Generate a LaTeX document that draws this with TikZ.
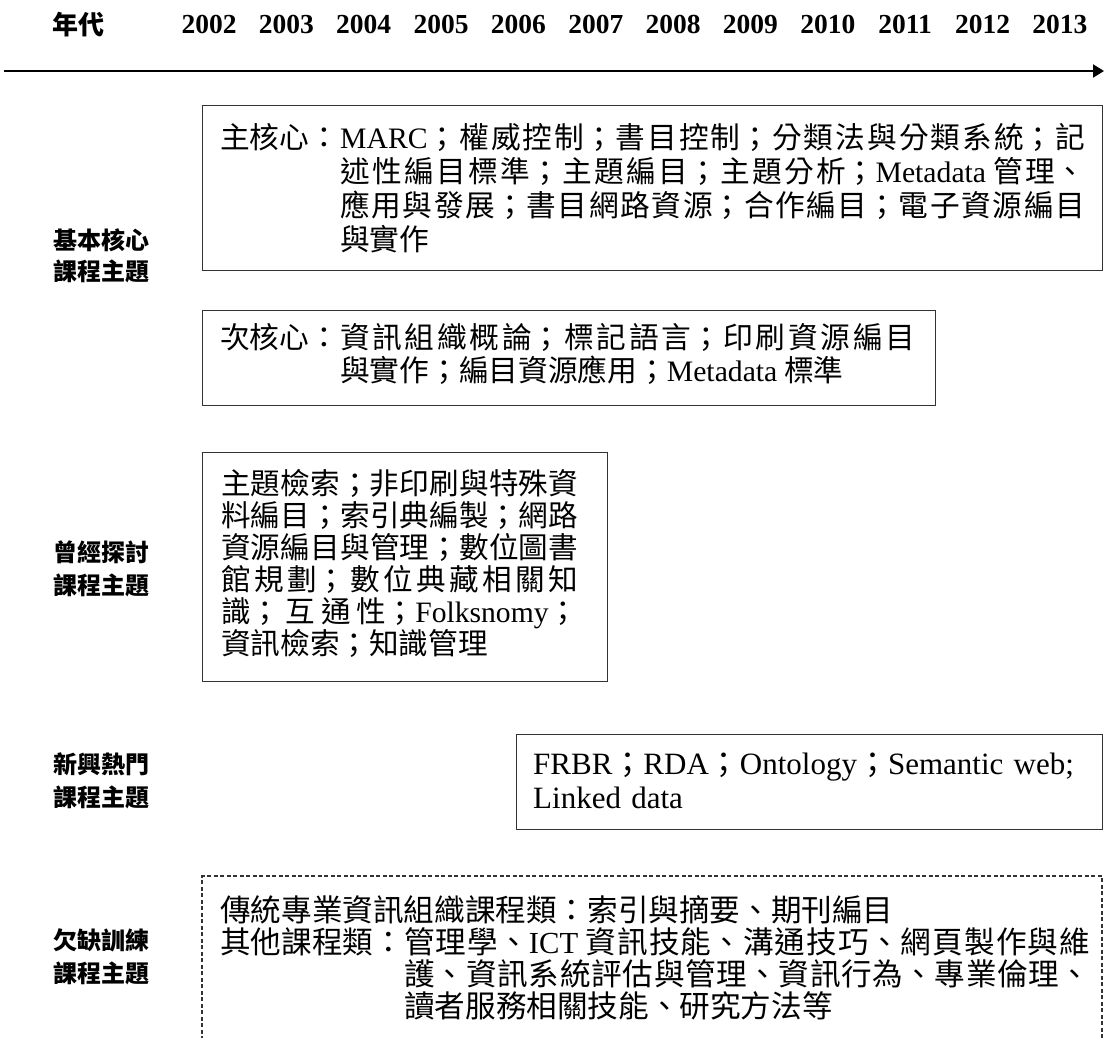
\documentclass[tikz,border=0pt]{standalone}
\usepackage{fontspec}
\setmainfont{Liberation Serif}
\newfontfamily\cjk{Noto Sans CJK TC}
\usetikzlibrary{arrows.meta}
\XeTeXlinebreaklocale "zh"
\XeTeXlinebreakskip=0pt plus 8pt
\newcommand\lat[1]{{\rmfamily #1}}
\newcommand\cj[1]{{\cjk #1}}
\newcommand\fBa{\fontsize{29.7}{33.7}\selectfont\cjk}
\newcommand\fBb{\fontsize{29.7}{33}\selectfont\cjk}
\newcommand\fBc{\fontsize{29.6}{32}\selectfont\cjk}
\newcommand\fBd{\fontsize{31}{34}\selectfont\rmfamily}
\newcommand\fBe{\fontsize{30.6}{32.3}\selectfont\cjk}
\newcommand\fSide{\fontsize{24}{32}\selectfont\cjk\bfseries}
\newcommand\fYear{\fontsize{27.5}{30}\selectfont\rmfamily\bfseries}
\tikzset{
  boxframe/.style={draw=black!80, line width=1.3pt, inner sep=0pt, anchor=north west},
  dashframe/.style={draw=black!80, line width=1.2pt, dash pattern=on 4pt off 2.5pt},
  body/.style={inner sep=0pt, anchor=base west, align=justify},
  lab/.style={inner sep=0pt, anchor=base west},
  side/.style={inner sep=0pt, anchor=base west, font=\fSide},
  yearlab/.style={inner sep=0pt, anchor=base, font=\fYear},
  timeline/.style={line width=2pt, -{Triangle[length=11pt,width=13pt]}}
}
\begin{document}
\begin{tikzpicture}[x=1pt,y=-1pt]
\useasboundingbox (0,0) rectangle (1105,1038);
% header
\node[lab, font=\fontsize{26}{30}\selectfont\cjk\bfseries] (era) at (52,35) {年代};
\foreach \yr [count=\i from 0] in {2002,2003,2004,2005,2006,2007,2008,2009,2010,2011,2012,2013}
  \node[yearlab] (y\yr) at ({209+77.35*\i},34) {\yr};
\coordinate (tlstart) at (4,71);
\coordinate (tlend) at (1104,71);
\draw[timeline] (tlstart) -- (tlend);
% side labels
\node[side] (s1a) at (53,249) {基本核心};
\node[side] (s1b) at (53,280) {課程主題};
\node[side] (s2a) at (53,561) {曾經探討};
\node[side] (s2b) at (53,594) {課程主題};
\node[side] (s3a) at (53,773) {新興熱門};
\node[side] (s3b) at (53,806) {課程主題};
\node[side] (s4a) at (53,949) {欠缺訓練};
\node[side] (s4b) at (53,982) {課程主題};
% box 1
\node[boxframe, minimum width=900pt, minimum height=165pt] (b1) at (202,105) {};
\node[lab, font=\fBa] (b1lab) at (220,149) {主核心：};
\node[body, font=\fBa, text width=745pt] (b1txt) at (340,149) {%
\lat{MARC}；權威控制；書目控制；分類法與分類系統；記\linebreak
述性編目標準；主題編目；主題分析；\lat{Metadata} 管理、\linebreak
應用與發展；書目網路資源；合作編目；電子資源編目\linebreak
與實作};
% box 2
\node[boxframe, minimum width=733pt, minimum height=95pt] (b2) at (202,310) {};
\node[lab, font=\fBb] (b2lab) at (220,348) {次核心：};
\node[body, font=\fBb, text width=575pt] (b2txt) at (340,348) {%
資訊組織概論；標記語言；印刷資源編目\linebreak
與實作；編目資源應用；\lat{Metadata} 標準};
% box 3
\node[boxframe, minimum width=405pt, minimum height=229pt] (b3) at (202,452) {};
\node[body, font=\fBc, text width=357pt] (b3txt) at (221,494) {%
主題檢索；非印刷與特殊資\linebreak
料編目；索引典編製；網路\linebreak
資源編目與管理；數位圖書\linebreak
館規劃；數位典藏相關知\linebreak
識；互通性；\lat{Folksnomy}；\linebreak
資訊檢索；知識管理};
% box 4
\node[boxframe, minimum width=586pt, minimum height=95pt] (b4) at (516,734) {};
\node[body, font=\fBd, text width=560pt, align=left] (b4txt) at (533,774) {%
FRBR\cj{；}RDA\cj{；}Ontology\cj{；}Semantic web;\\
Linked data};
% box 5 (open at the bottom)
\coordinate (b5bl) at (202,1040);
\coordinate (b5tl) at (202,876);
\coordinate (b5tr) at (1102,876);
\coordinate (b5br) at (1102,1040);
\draw[dashframe] (b5bl) -- (b5tl) -- (b5tr) -- (b5br);
\node[lab, font=\fBe] (b5l1) at (220,921) {傳統專業資訊組織課程類：索引與摘要、期刊編目};
\node[lab, font=\fBe] (b5lab) at (220,953.3) {其他課程類：};
\node[body, font=\fBe, text width=686pt] (b5txt) at (404,953.3) {%
管理學、\lat{ICT} 資訊技能、溝通技巧、網頁製作與維\linebreak
護、資訊系統評估與管理、資訊行為、專業倫理、\linebreak
讀者服務相關技能、研究方法等};
\end{tikzpicture}
\end{document}
